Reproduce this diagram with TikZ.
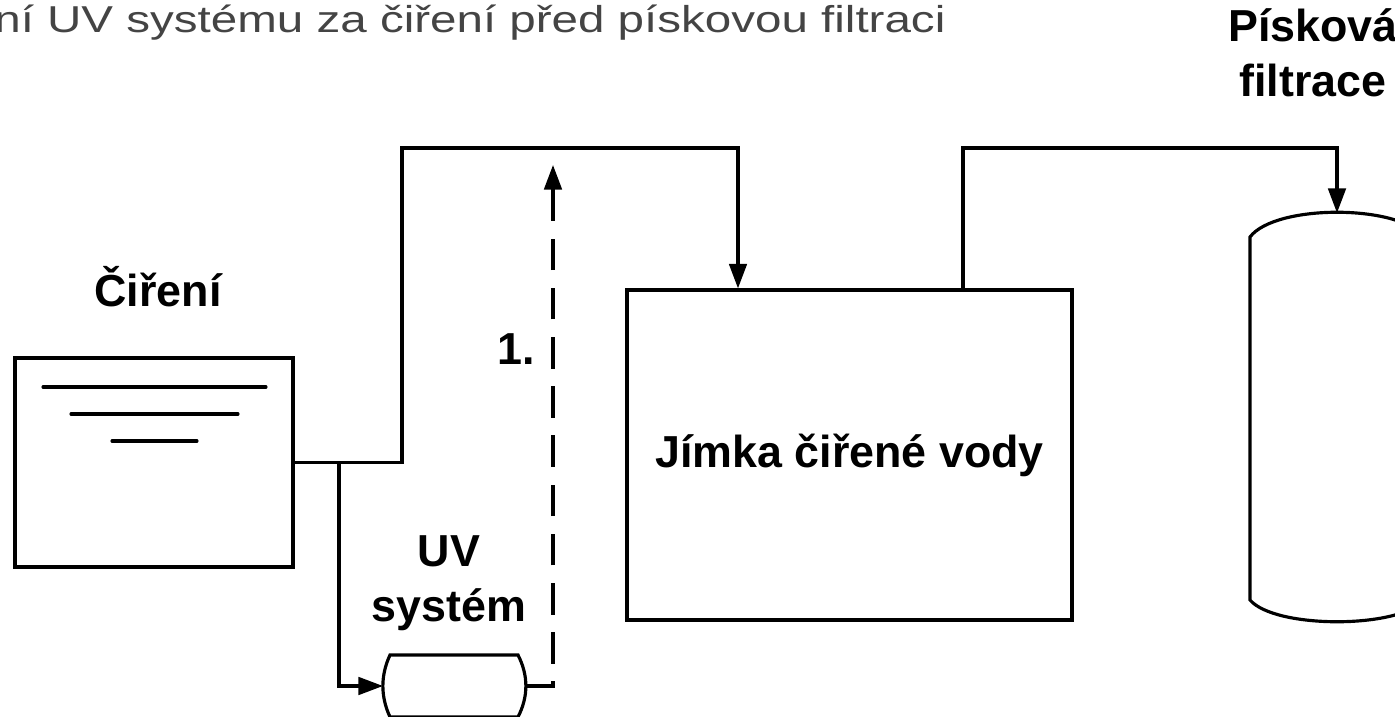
\documentclass[tikz,border=0pt]{standalone}
\usepackage{fontspec}
\setmainfont{Liberation Sans}
\newfontfamily\titlefont[FakeStretch=1.27]{Liberation Sans}
\usepackage{xcolor}
\usepackage{tikz}
\usetikzlibrary{arrows.meta}
\definecolor{titlegray}{RGB}{68,68,68}
\definecolor{pipeblack}{RGB}{0,0,0}

\begin{document}
\begin{tikzpicture}[
  lbl/.style={font=\fontsize{25.5}{31.3}\selectfont\bfseries, align=center, inner sep=0pt},
  vessel/.style={rectangle, draw=pipeblack, line width=1.8pt, inner sep=0pt},
  pipe/.style={draw=pipeblack, line width=1.8pt},
  flow/.style={pipe, -{Triangle[length=14pt,width=10pt]}},
  route/.style={flow, dash pattern=on 18pt off 10pt}
]
  \useasboundingbox (0,0) rectangle (27.9,14.34);
  % title line, cut at the left edge
  \node[anchor=base west, inner sep=0pt, text=titlegray, font=\titlefont\fontsize{21.3}{25}\selectfont] (title) at (-0.12,13.68) {ní UV systému za čiření před pískovou filtraci};

  % clarifier
  \node[vessel, minimum width=5.56cm, minimum height=4.18cm] (cireni) at (3.08,5.09) {};
  \node[lbl, anchor=base] (cirenilbl) at (3.16,8.20) {Čiření};
  \foreach \y/\a/\b in {6.60/0.86/5.32, 6.06/1.42/4.76, 5.52/2.24/3.94} {
    \draw[pipe, line cap=round] (\a,\y) -- (\b,\y);
  }

  % sump
  \node[vessel, lbl, minimum width=8.9cm, minimum height=6.6cm] (jimka) at (16.99,5.24) {Jímka čiřené vody};

  % UV unit
  \coordinate (uvin) at (7.66,0.62);
  \coordinate (uvout) at (10.52,0.62);
  \draw[pipe] (7.80,1.24) -- (10.36,1.24) .. controls (10.57,0.83) and (10.57,0.41) .. (10.36,0)
    -- (7.80,0) .. controls (7.61,0.41) and (7.61,0.83) .. (7.80,1.24) -- cycle;
  \node[lbl] (uvlbl) at (8.98,2.68) {UV\\systém};

  % sand filter, cut at the right edge
  \coordinate (filtertop) at (26.74,10.08);
  \draw[pipe] (25.0,9.60) .. controls (25.5,10.26) and (27.98,10.26) .. (28.48,9.60)
    -- (28.48,2.34) .. controls (27.98,1.76) and (25.5,1.76) .. (25.0,2.34) -- cycle;
  \node[lbl] (filtrlbl) at (26.26,13.29) {Písková\\filtrace};

  % pipes
  \coordinate (riseA) at (8.04,11.38);
  \coordinate (dropA) at (14.76,11.38);
  \coordinate (split) at (6.78,5.09);
  \coordinate (riseB) at (19.26,11.38);
  \coordinate (routeend) at (11.06,11.04);
  \draw[flow] (cireni.east) -| (riseA) -- (dropA) -- (dropA |- jimka.north);
  \draw[flow] (split) |- (uvin);
  \draw[flow] (riseB |- jimka.north) -- (riseB) -| (filtertop);
  \draw[route] (uvout) -| (routeend);
  \node[lbl, anchor=base east] (numlbl) at (10.70,7.04) {1.};
\end{tikzpicture}
\end{document}
